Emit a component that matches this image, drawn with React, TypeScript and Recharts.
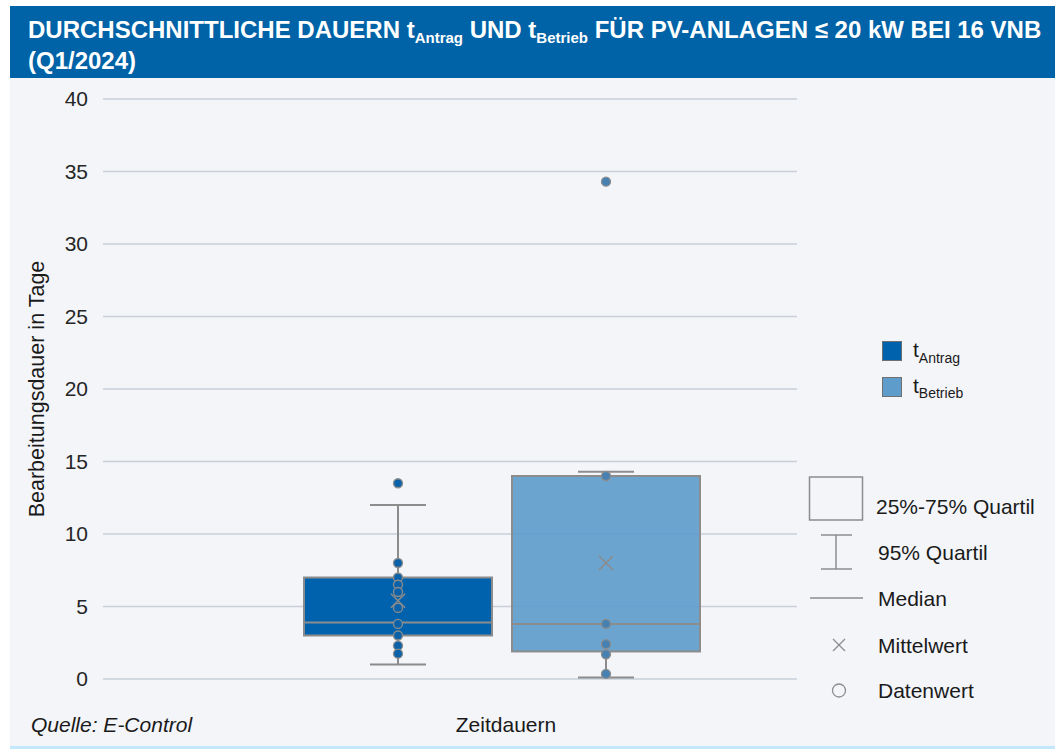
import React from "react";
import { ComposedChart, Bar, Scatter, XAxis, YAxis, CartesianGrid } from "recharts";

// values (days)
const categories = ["tAntrag", "tBetrieb"];
const q1 = [3, 1.9];
const medians = [3.9, 3.8];
const q3 = [7, 14];
const whiskerLow = [1, 0.1];
const whiskerHigh = [12, 14.3];
const means = [5.4, 8];
const antragValues = [13.5, 8, 7, 6.5, 6, 4.9, 3.8, 3, 2.3, 1.75];
const betriebValues = [34.3, 14, 3.8, 2.4, 1.7, 0.35];
const yTicks = [0, 5, 10, 15, 20, 25, 30, 35, 40];

const boxColors = ["#0062ac", "#5e9ccb"];
const dotColors = ["#0b62a8", "#4681b2"];
const EDGE = "#8c8c8c";
const FONT = "'Liberation Sans', Arial, Helvetica, sans-serif";

const boxData = categories.map((name, i) => ({
  name,
  box: [q1[i], q3[i]],
  q1: q1[i],
  q3: q3[i],
  med: medians[i],
  lo: whiskerLow[i],
  hi: whiskerHigh[i],
}));

const antragPoints = antragValues.map((value) => ({ name: categories[0], value }));
const betriebPoints = betriebValues.map((value) => ({ name: categories[1], value }));
const meanPoints = means.map((value, i) => ({ name: categories[i], value }));

function BoxShape(props: any) {
  const { x, y, width, height } = props;
  const d = props.payload ?? props;
  const i = categories.indexOf(d.name);
  // bar spans q1..q3, so px per day comes straight from the bar geometry
  const k = height / (d.q3 - d.q1);
  const yOf = (v: number) => y + (d.q3 - v) * k;
  const cx = x + width / 2;
  const cap = 28;
  return (
    <g>
      <line x1={cx} x2={cx} y1={yOf(d.hi)} y2={y} stroke={EDGE} strokeWidth={2} />
      <line x1={cx} x2={cx} y1={y + height} y2={yOf(d.lo)} stroke={EDGE} strokeWidth={2} />
      <line x1={cx - cap} x2={cx + cap} y1={yOf(d.hi)} y2={yOf(d.hi)} stroke={EDGE} strokeWidth={2} />
      <line x1={cx - cap} x2={cx + cap} y1={yOf(d.lo)} y2={yOf(d.lo)} stroke={EDGE} strokeWidth={2} />
      <rect
        x={x}
        y={y}
        width={width}
        height={height}
        fill={boxColors[i]}
        fillOpacity={i === 1 ? 0.92 : 1}
        stroke={EDGE}
        strokeWidth={2}
      />
      <line x1={x} x2={x + width} y1={yOf(d.med)} y2={yOf(d.med)} stroke={EDGE} strokeWidth={2} />
    </g>
  );
}

const dot = (fill: string) => (p: any) =>
  <circle cx={p.cx} cy={p.cy} r={4.5} fill={fill} stroke={EDGE} strokeWidth={1.3} />;

const cross = (p: any) => (
  <g stroke={EDGE} strokeWidth={1.6}>
    <line x1={p.cx - 7} y1={p.cy - 7} x2={p.cx + 7} y2={p.cy + 7} />
    <line x1={p.cx - 7} y1={p.cy + 7} x2={p.cx + 7} y2={p.cy - 7} />
  </g>
);

function Legend() {
  const txt = { fontSize: 21, fill: "#1a1a1a" };
  return (
    <svg width={255} height={400} style={{ position: "absolute", left: 800, top: 320 }}>
      <rect x={82.5} y={21.5} width={19} height={19} fill={boxColors[0]} stroke="#6f6f6f" />
      <text x={113} y={37} {...txt}>
        t<tspan fontSize={14} dy={6}>Antrag</tspan>
      </text>
      <rect x={82.5} y={57.5} width={19} height={19} fill={boxColors[1]} stroke="#6f6f6f" />
      <text x={113} y={73} {...txt}>
        t<tspan fontSize={14} dy={5}>Betrieb</tspan>
      </text>

      <rect x={9.5} y={157} width={53} height={43} fill="none" stroke={EDGE} strokeWidth={1.5} />
      <text x={76} y={194} {...txt}>25%-75% Quartil</text>

      <g stroke={EDGE} strokeWidth={1.5}>
        <line x1={21} x2={52} y1={215} y2={215} />
        <line x1={36} x2={36} y1={215} y2={249} />
        <line x1={21} x2={52} y1={249} y2={249} />
      </g>
      <text x={78} y={240} {...txt}>95% Quartil</text>

      <line x1={10} x2={63} y1={278} y2={278} stroke={EDGE} strokeWidth={1.5} />
      <text x={78} y={286} {...txt}>Median</text>

      <g stroke={EDGE} strokeWidth={1.3}>
        <line x1={33} y1={319} x2={45} y2={331} />
        <line x1={33} y1={331} x2={45} y2={319} />
      </g>
      <text x={78} y={333} {...txt}>Mittelwert</text>

      <circle cx={39} cy={370.5} r={6.5} fill="none" stroke={EDGE} strokeWidth={1.3} />
      <text x={78} y={378} {...txt}>Datenwert</text>
    </svg>
  );
}

export default function App() {
  return (
    <div
      style={{
        position: "absolute",
        left: 0,
        top: 0,
        width: 1055,
        height: 749,
        background: "#ffffff",
        fontFamily: FONT,
        overflow: "hidden",
      }}
    >
      <div style={{ position: "absolute", left: 10, top: 78, width: 1045, height: 668, background: "#f3f5f9" }} />
      <div style={{ position: "absolute", left: 10, top: 746, width: 1045, height: 3, background: "#c3e7fb" }} />
      <div style={{ position: "absolute", left: 10, top: 6, width: 1045, height: 72, background: "#0063a7" }} />
      <div
        style={{
          position: "absolute",
          left: 28,
          top: 14,
          width: 1027,
          color: "#ffffff",
          fontWeight: "bold",
          fontSize: 24,
          lineHeight: "31px",
          whiteSpace: "nowrap",
        }}
      >
        DURCHSCHNITTLICHE DAUERN t
        <sub style={{ fontSize: 15, lineHeight: 0, verticalAlign: -5 }}>Antrag</sub> UND t
        <sub style={{ fontSize: 15, lineHeight: 0, verticalAlign: -5 }}>Betrieb</sub> FÜR PV-ANLAGEN ≤ 20 kW BEI 16 VNB
        <br />
        (Q1/2024)
      </div>

      <ComposedChart
        width={1055}
        height={749}
        data={boxData}
        margin={{ top: 99, right: 258, bottom: 10, left: 0 }}
        style={{ position: "absolute", left: 0, top: 0 }}
      >
        <CartesianGrid vertical={false} stroke="#c9cfdb" strokeWidth={1.5} />
        <XAxis
          dataKey="name"
          type="category"
          allowDuplicatedCategory={false}
          padding={{ left: 191, right: 87 }}
          height={60}
          tick={false}
          axisLine={false}
          tickLine={false}
          label={{
            content: (p: any) => (
              <text
                x={p.viewBox.x + p.viewBox.width / 2 + 56}
                y={p.viewBox.y + 53}
                textAnchor="middle"
                fontSize={21}
                fill="#1a1a1a"
              >
                Zeitdauern
              </text>
            ),
          }}
        />
        <YAxis
          type="number"
          domain={[0, 40]}
          ticks={yTicks}
          width={103}
          axisLine={false}
          tickLine={false}
          tickMargin={9}
          tick={{ fontSize: 21, fill: "#262626" }}
          label={{
            content: (p: any) => {
              const cx = p.viewBox.x + 37;
              const cy = p.viewBox.y + p.viewBox.height / 2;
              return (
                <text
                  x={cx}
                  y={cy}
                  transform={`rotate(-90, ${cx}, ${cy})`}
                  textAnchor="middle"
                  dominantBaseline="central"
                  fontSize={21.5}
                  fill="#1a1a1a"
                >
                  Bearbeitungsdauer in Tage
                </text>
              );
            },
          }}
        />
        <Bar dataKey="box" barSize={188} shape={BoxShape} isAnimationActive={false} />
        <Scatter data={antragPoints} dataKey="value" shape={dot(dotColors[0])} isAnimationActive={false} />
        <Scatter data={betriebPoints} dataKey="value" shape={dot(dotColors[1])} isAnimationActive={false} />
        <Scatter data={meanPoints} dataKey="value" shape={cross} isAnimationActive={false} />
      </ComposedChart>

      <Legend />

      <div style={{ position: "absolute", left: 31, top: 713, fontSize: 21, fontStyle: "italic", color: "#1a1a1a" }}>
        Quelle: E-Control
      </div>
    </div>
  );
}
